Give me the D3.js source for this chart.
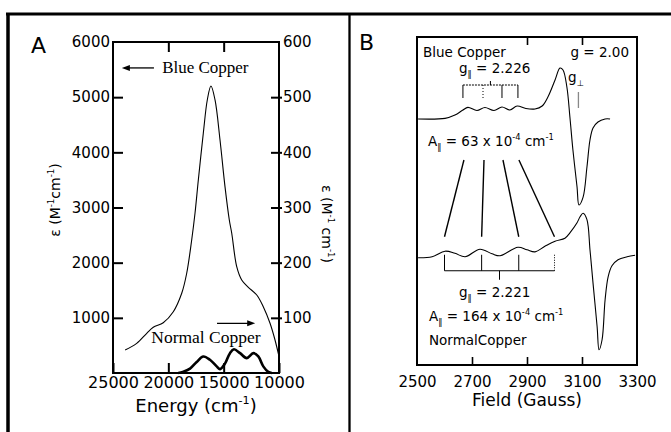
<!DOCTYPE html>
<html>
<head>
<meta charset="utf-8">
<script src="https://cdn.jsdelivr.net/npm/d3@7/dist/d3.min.js"></script>
<style>
  body { margin: 0; background: #fff; }
  svg text { font-family: "DejaVu Sans", "Liberation Sans", sans-serif; fill: #000; }
  svg .serif { font-family: "Liberation Serif", "DejaVu Serif", serif; }
</style>
</head>
<body>
<svg id="chart" width="671" height="432"></svg>
<script>
// ---- panel A : absorption (energy in cm-1, epsilon in M-1 cm-1)
const blueEnergy = [23900, 22860, 21950, 21360, 20460, 19550, 18790, 18340, 17890, 17590, 17290, 16840, 16480, 16150, 15780, 15330, 14880, 14490, 14270, 13820, 13370, 12770, 12010, 11420, 10810, 10360, 10000];
const blueEps = [417, 538, 720, 828, 912, 1111, 1445, 1808, 2411, 2895, 3499, 4346, 4949, 5203, 4949, 4224, 3378, 2774, 2533, 1927, 1686, 1554, 1414, 1202, 901, 598, 300];
const normalEnergy = [19100, 18700, 18040, 17440, 16840, 16240, 15630, 15330, 14880, 14430, 14070, 13520, 12920, 12320, 11870, 11420, 10970, 10650];
const normalEps = [0, 2, 8, 20, 30, 24, 12, 7, 17, 36, 43, 36, 27, 36, 30, 12, 2, 0];
const energyTicks = [25000, 20000, 15000, 10000];
const epsLeftTicks = [1000, 2000, 3000, 4000, 5000, 6000];
const epsRightTicks = [100, 200, 300, 400, 500, 600];

// ---- panel B : EPR derivative spectra (field in gauss, signal in a.u.)
const blueField = [2504, 2602, 2638, 2667, 2685, 2718, 2747, 2780, 2809, 2838, 2864, 2896, 2929, 2955, 2976, 3002, 3020, 3031, 3045, 3056, 3067, 3082, 3089, 3104, 3118, 3129, 3140, 3158, 3184, 3202];
const blueSignal = [0, 0.004, 0.024, 0.055, 0.071, 0.052, 0.070, 0.052, 0.073, 0.055, 0.079, 0.064, 0.061, 0.079, 0.134, 0.238, 0.311, 0.299, 0.195, 0.012, -0.189, -0.415, -0.524, -0.476, -0.293, -0.128, -0.055, -0.018, 0, 0];
const normalField = [2504, 2555, 2602, 2638, 2675, 2729, 2773, 2802, 2867, 2900, 2929, 2965, 3002, 3038, 3056, 3082, 3093, 3104, 3118, 3129, 3140, 3155, 3162, 3173, 3184, 3195, 3209, 3231, 3264, 3293];
const normalSignal = [-0.006, 0, 0.034, 0.021, 0, 0.046, 0.018, 0.006, 0.058, 0.043, 0.030, 0.064, 0.095, 0.113, 0.146, 0.207, 0.244, 0.265, 0.226, 0.043, -0.159, -0.427, -0.567, -0.506, -0.262, -0.122, -0.055, -0.018, 0, 0.009];
const blueHyperfine = [2667, 2740, 2809, 2867];
const normalHyperfine = [2600, 2735, 2870, 3000];
const fieldTicks = [2500, 2700, 2900, 3100, 3300];

const svg = d3.select("#chart");

// outer frame
svg.append("line").attr("x1", 6).attr("x2", 671).attr("y1", 14).attr("y2", 14)
  .attr("stroke", "#000").attr("stroke-width", 3);
svg.append("line").attr("x1", 8).attr("x2", 8).attr("y1", 13).attr("y2", 432)
  .attr("stroke", "#000").attr("stroke-width", 3.5);
svg.append("line").attr("x1", 349.5).attr("x2", 349.5).attr("y1", 13).attr("y2", 432)
  .attr("stroke", "#000").attr("stroke-width", 2.3);

// text with sup / sub parts
function rich(t, parts, size) {
  let shift = 0;
  parts.forEach(([s, k]) => {
    const target = k === "sup" ? -0.42 * size : k === "sub" ? 0.28 * size : 0;
    t.append("tspan")
      .attr("dy", target - shift)
      .style("font-size", (k ? size * 0.62 : size) + "px")
      .text(s);
    shift = target;
  });
  return t;
}

// ================= panel A =================
const A = { left: 113, right: 279, top: 42, bottom: 373 };
const xA = d3.scaleLinear().domain([25000, 10000]).range([A.left, A.right]);
const yA = d3.scaleLinear().domain([0, 6000]).range([A.bottom, A.top]);
const yA2 = d3.scaleLinear().domain([0, 600]).range([A.bottom, A.top]);

const gA = svg.append("g");

gA.append("rect")
  .attr("x", A.left).attr("y", A.top)
  .attr("width", A.right - A.left).attr("height", A.bottom - A.top)
  .attr("fill", "none").attr("stroke", "#000").attr("stroke-width", 2);

const axLeft = gA.append("g").attr("transform", `translate(${A.left},0)`)
  .call(d3.axisLeft(yA).tickValues(epsLeftTicks).tickSize(-10).tickPadding(3).tickFormat(d3.format("d")));
const axRight = gA.append("g").attr("transform", `translate(${A.right},0)`)
  .call(d3.axisRight(yA2).tickValues(epsRightTicks).tickSize(-8).tickPadding(4).tickFormat(d3.format("d")));
const axBottom = gA.append("g").attr("transform", `translate(0,${A.bottom})`)
  .call(d3.axisBottom(xA).tickValues(energyTicks).tickSize(-10).tickPadding(4).tickFormat(d3.format("d")));
const axTop = gA.append("g").attr("transform", `translate(0,${A.top})`)
  .call(d3.axisTop(xA).tickValues([20000, 15000]).tickSize(-10).tickFormat(""));

[axLeft, axRight, axBottom, axTop].forEach(ax => {
  ax.select(".domain").remove();
  ax.selectAll(".tick line").attr("stroke", "#000").attr("stroke-width", 2);
  ax.selectAll("text").attr("font-family", null).style("font-size", "15px");
});
axRight.selectAll(".tick line").attr("x1", 3);
axBottom.selectAll("text").style("font-size", "16px");
axLeft.selectAll(".tick").filter(d => d === 6000).select("line").remove();
axRight.selectAll(".tick").filter(d => d === 600).select("line").remove();

// blue copper (left axis)
const blueData = blueEnergy.map((e, i) => [e, blueEps[i]]);
gA.append("path")
  .datum(blueData)
  .attr("fill", "none").attr("stroke", "#000").attr("stroke-width", 1.1)
  .attr("d", d3.line().x(d => xA(d[0])).y(d => yA(d[1])).curve(d3.curveCatmullRom.alpha(0.5)));

// normal copper (right axis)
const normalData = normalEnergy.map((e, i) => [e, normalEps[i]]);
gA.append("path")
  .datum(normalData)
  .attr("fill", "none").attr("stroke", "#000").attr("stroke-width", 2.6)
  .attr("d", d3.line().x(d => xA(d[0])).y(d => yA2(d[1])).curve(d3.curveCatmullRom.alpha(0.5)));

function arrow(g, x1, x2, y) {
  const dir = Math.sign(x2 - x1);
  g.append("line").attr("x1", x1).attr("x2", x2 - dir * 6).attr("y1", y).attr("y2", y)
    .attr("stroke", "#000").attr("stroke-width", 1.3);
  g.append("path")
    .attr("d", `M${x2},${y} L${x2 - dir * 8},${y - 3} L${x2 - dir * 8},${y + 3} Z`)
    .attr("fill", "#000");
}

arrow(gA, xA(21300), xA(24200), yA(5530));
gA.append("text").attr("class", "serif")
  .attr("x", xA(20560)).attr("y", yA(5530) + 5)
  .style("font-size", "17px").text("Blue Copper");

arrow(gA, xA(15600), xA(12150), yA2(90));
gA.append("text").attr("class", "serif")
  .attr("x", xA(16600)).attr("y", yA2(55)).attr("text-anchor", "middle")
  .style("font-size", "17.5px").text("Normal Copper");

// labels
gA.append("text").attr("x", 31).attr("y", 53).style("font-size", "22px").text("A");

rich(gA.append("text").attr("text-anchor", "middle")
  .attr("transform", `translate(${(A.left + A.right) / 2},412)`),
  [["Energy (cm", null], ["-1", "sup"], [")", null]], 18);

rich(gA.append("text").attr("text-anchor", "middle")
  .attr("transform", "translate(60,200) rotate(-90)"),
  [["ε (M", null], ["-1", "sup"], ["cm", null], ["-1", "sup"], [")", null]], 14);

rich(gA.append("text").attr("text-anchor", "middle")
  .attr("transform", "translate(322,224) rotate(90)"),
  [["ε (M", null], ["-1", "sup"], [" cm", null], ["-1", "sup"], [")", null]], 14);

// ================= panel B =================
const B = { left: 417, right: 637, top: 37, bottom: 365 };
const xB = d3.scaleLinear().domain([2500, 3300]).range([B.left, B.right]);
const yB = d3.scaleLinear().domain([-1, 1]).range([B.bottom, B.top]);
const blueShift = 0.5;
const normalShift = -0.34;

const gB = svg.append("g");

gB.append("rect")
  .attr("x", B.left).attr("y", B.top)
  .attr("width", B.right - B.left).attr("height", B.bottom - B.top)
  .attr("fill", "none").attr("stroke", "#000").attr("stroke-width", 2);

const axB = gB.append("g").attr("transform", `translate(0,${B.bottom})`)
  .call(d3.axisBottom(xB).tickValues(fieldTicks).tickSize(-8).tickPadding(11).tickFormat(d3.format("d")));
const axBTop = gB.append("g").attr("transform", `translate(0,${B.top})`)
  .call(d3.axisTop(xB).tickValues([2900, 3100]).tickSize(-8).tickFormat(""));
[axB, axBTop].forEach(ax => {
  ax.select(".domain").remove();
  ax.selectAll(".tick line").attr("stroke", "#000").attr("stroke-width", 1.6);
  ax.selectAll("text").attr("font-family", null).style("font-size", "15px");
});
axB.selectAll(".tick").filter(d => d === 2500 || d === 3300).select("line").remove();

const eprLine = shift => d3.line()
  .x(d => xB(d[0])).y(d => yB(d[1] + shift))
  .curve(d3.curveCatmullRom.alpha(0.5));

gB.append("path")
  .datum(blueField.map((f, i) => [f, blueSignal[i]]))
  .attr("fill", "none").attr("stroke", "#000").attr("stroke-width", 1.1)
  .attr("d", eprLine(blueShift));
gB.append("path")
  .datum(normalField.map((f, i) => [f, normalSignal[i]]))
  .attr("fill", "none").attr("stroke", "#000").attr("stroke-width", 1.1)
  .attr("d", eprLine(normalShift));

// hyperfine brackets
const yBlue = yB(blueShift);
const yNorm = yB(normalShift);
const bx = blueHyperfine.map(xB);
const nx = normalHyperfine.map(xB);

gB.append("line").attr("x1", bx[0]).attr("x2", bx[3]).attr("y1", yBlue - 34).attr("y2", yBlue - 34)
  .attr("stroke", "#000").attr("stroke-width", 1).attr("stroke-dasharray", "2,1");
bx.forEach((x, i) => {
  gB.append("line").attr("x1", x).attr("x2", x).attr("y1", yBlue - 34).attr("y2", yBlue - 21)
    .attr("stroke", "#000").attr("stroke-width", 1).attr("stroke-dasharray", i === 1 ? "1,2" : null);
});
gB.append("line").attr("x1", (bx[0] + bx[3]) / 2).attr("x2", (bx[0] + bx[3]) / 2)
  .attr("y1", yBlue - 34).attr("y2", yBlue - 38).attr("stroke", "#000").attr("stroke-width", 1);

gB.append("line").attr("x1", nx[0]).attr("x2", nx[3]).attr("y1", yNorm + 14).attr("y2", yNorm + 14)
  .attr("stroke", "#000").attr("stroke-width", 1);
nx.forEach((x, i) => {
  gB.append("line").attr("x1", x).attr("x2", x).attr("y1", yNorm + 14).attr("y2", yNorm - 2)
    .attr("stroke", "#000").attr("stroke-width", 1).attr("stroke-dasharray", i === 3 ? "1,1.5" : null);
});
gB.append("line").attr("x1", (nx[0] + nx[3]) / 2).attr("x2", (nx[0] + nx[3]) / 2)
  .attr("y1", yNorm + 14).attr("y2", yNorm + 23).attr("stroke", "#000").attr("stroke-width", 1);

// correlation lines between the two spectra
bx.forEach((x, i) => {
  gB.append("line").attr("x1", x + 1).attr("y1", yBlue + 41)
    .attr("x2", nx[i]).attr("y2", yNorm - 20)
    .attr("stroke", "#000").attr("stroke-width", 1.4);
});

// g-perp marker
gB.append("line").attr("x1", xB(3087)).attr("x2", xB(3087)).attr("y1", 92).attr("y2", 108)
  .attr("stroke", "#888").attr("stroke-width", 1.3);

const small = 13.5;
gB.append("text").attr("x", 423).attr("y", 57).style("font-size", small + "px").text("Blue Copper");
rich(gB.append("text").attr("x", 459).attr("y", 73), [["g", null], ["‖", "sub"], [" = 2.226", null]], small);
gB.append("text").attr("x", 629).attr("y", 57).attr("text-anchor", "end").style("font-size", small + "px").text("g = 2.00");
rich(gB.append("text").attr("x", 568).attr("y", 82), [["g", null], ["⊥", "sub"]], small);
rich(gB.append("text").attr("x", 428).attr("y", 146),
  [["A", null], ["‖", "sub"], [" = 63 x 10", null], ["-4", "sup"], [" cm", null], ["-1", "sup"]], small);

rich(gB.append("text").attr("x", 459).attr("y", 297), [["g", null], ["‖", "sub"], ["  = 2.221", null]], small);
rich(gB.append("text").attr("x", 429).attr("y", 321),
  [["A", null], ["‖", "sub"], [" = 164 x 10", null], ["-4", "sup"], [" cm", null], ["-1", "sup"]], small);
gB.append("text").attr("x", 429).attr("y", 345).style("font-size", small + "px").text("NormalCopper");

gB.append("text").attr("x", 359).attr("y", 50).style("font-size", "22px").text("B");
gB.append("text").attr("x", (B.left + B.right) / 2).attr("y", 406).attr("text-anchor", "middle")
  .style("font-size", "17px").text("Field  (Gauss)");
</script>
</body>
</html>
